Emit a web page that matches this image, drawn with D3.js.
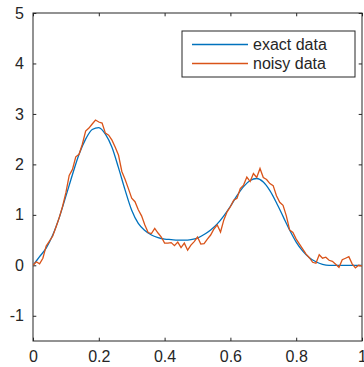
<!DOCTYPE html>
<html>
<head>
<meta charset="utf-8">
<script src="https://cdn.jsdelivr.net/npm/d3@7"></script>
<style>
  body { margin: 0; background: #fff; }
  svg text { font-family: "Liberation Sans", Arial, sans-serif; fill: #262626; }
</style>
</head>
<body>
<svg id="chart" width="364" height="367"></svg>
<script>
// exact curve, sampled every 0.02
var exactX = d3.range(0, 51).map(function (i) { return i / 50; });
var exactY = [0.00, 0.17, 0.34, 0.60, 0.95, 1.37, 1.80, 2.20, 2.50, 2.69,
              2.73, 2.60, 2.34, 1.93, 1.49, 1.09, 0.83, 0.69, 0.60, 0.55,
              0.52, 0.51, 0.50, 0.50, 0.51, 0.54, 0.61, 0.70, 0.82, 0.98,
              1.17, 1.38, 1.56, 1.68, 1.72, 1.65, 1.48, 1.24, 0.97, 0.70,
              0.46, 0.28, 0.15, 0.07, 0.02, 0.00, 0.00, 0.00, 0.00, 0.00,
              0.00];

// noisy data, sampled every 0.01
var noisyX = d3.range(0, 101).map(function (i) { return i / 100; });
var noisyY = [0.00, 0.07, 0.03, 0.14, 0.38, 0.48, 0.58, 0.76, 0.95, 1.17,
              1.44, 1.78, 1.90, 2.15, 2.20, 2.40, 2.66, 2.72, 2.80, 2.88,
              2.84, 2.82, 2.62, 2.58, 2.48, 2.34, 2.18, 1.86, 1.70, 1.52,
              1.33, 1.26, 1.10, 0.98, 0.80, 0.65, 0.63, 0.73, 0.64, 0.56,
              0.44, 0.44, 0.45, 0.39, 0.46, 0.35, 0.44, 0.30, 0.40, 0.47,
              0.56, 0.42, 0.43, 0.52, 0.60, 0.72, 0.80, 0.66, 0.90, 1.06,
              1.16, 1.29, 1.33, 1.52, 1.59, 1.75, 1.66, 1.82, 1.74, 1.92,
              1.74, 1.70, 1.62, 1.58, 1.38, 1.25, 1.19, 0.98, 0.70, 0.65,
              0.52, 0.42, 0.32, 0.22, 0.15, 0.06, 0.04, 0.21, 0.14, 0.16,
              0.10, 0.08, 0.02, -0.04, 0.11, 0.14, 0.17, 0.03, -0.05, 0.00,
              -0.01];

var xTicks = [0, 0.2, 0.4, 0.6, 0.8, 1];
var yTicks = [-1, 0, 1, 2, 3, 4, 5];
var seriesNames = ['exact data', 'noisy data'];
var seriesColors = ['#0072BD', '#D95319'];

var margin = {left: 33, right: 2, top: 13, bottom: 26};
var width = 364 - margin.left - margin.right;
var height = 367 - margin.top - margin.bottom;

var svg = d3.select('#chart');
var g = svg.append('g').attr('transform', 'translate(' + margin.left + ',' + margin.top + ')');

var x = d3.scaleLinear().domain([0, 1]).range([0, width]);
var y = d3.scaleLinear().domain([-1.5, 5]).range([height, 0]);

var tickLen = 3.3;
// plain hyphen for negatives, like the original
var fmt = function (d) { return String(d); };

var styleAxis = function (sel) {
    sel.select('.domain').remove();
    sel.selectAll('line').attr('stroke', '#262626');
    sel.selectAll('text').attr('font-size', 16).attr('fill', '#262626')
        .style('font-family', '"Liberation Sans", Arial, sans-serif');
};

g.append('g').attr('transform', 'translate(0,' + height + ')')
    .call(d3.axisBottom(x).tickValues(xTicks).tickFormat(fmt).tickSizeInner(-tickLen).tickSizeOuter(0).tickPadding(10))
    .call(styleAxis);
g.append('g')
    .call(d3.axisTop(x).tickValues(xTicks).tickFormat('').tickSizeInner(-tickLen).tickSizeOuter(0))
    .call(styleAxis);
g.append('g')
    .call(d3.axisLeft(y).tickValues(yTicks).tickFormat(fmt).tickSizeInner(-tickLen).tickSizeOuter(0).tickPadding(9))
    .call(styleAxis);
g.append('g').attr('transform', 'translate(' + width + ',0)')
    .call(d3.axisRight(y).tickValues(yTicks).tickFormat('').tickSizeInner(-tickLen).tickSizeOuter(0))
    .call(styleAxis);

// box
g.append('rect')
    .attr('x', 0).attr('y', 0).attr('width', width).attr('height', height)
    .attr('fill', 'none').attr('stroke', '#262626').attr('stroke-width', 1);

var clip = g.append('clipPath').attr('id', 'clip');
clip.append('rect').attr('width', width).attr('height', height);

var line = d3.line()
    .x(function (d) { return x(d[0]); })
    .y(function (d) { return y(d[1]); });

var exactData = exactX.map(function (v, i) { return [v, exactY[i]]; });
var noisyData = noisyX.map(function (v, i) { return [v, noisyY[i]]; });

g.append('path').datum(exactData)
    .attr('clip-path', 'url(#clip)')
    .attr('fill', 'none').attr('stroke', seriesColors[0]).attr('stroke-width', 1.3)
    .attr('d', line.curve(d3.curveMonotoneX));
g.append('path').datum(noisyData)
    .attr('clip-path', 'url(#clip)')
    .attr('fill', 'none').attr('stroke', seriesColors[1]).attr('stroke-width', 1.3)
    .attr('d', line.curve(d3.curveLinear));

// legend
var legend = g.append('g').attr('transform', 'translate(' + (182 - margin.left) + ',' + (31 - margin.top) + ')');
legend.append('rect')
    .attr('width', 173).attr('height', 46)
    .attr('fill', '#fff').attr('stroke', '#262626').attr('stroke-width', 1);
seriesNames.forEach(function (name, i) {
    var ly = 13.5 + i * 19;
    legend.append('line')
        .attr('x1', 10).attr('x2', 66).attr('y1', ly).attr('y2', ly)
        .attr('stroke', seriesColors[i]).attr('stroke-width', 1.3);
    legend.append('text')
        .attr('x', 71).attr('y', ly).attr('dy', '0.35em')
        .attr('font-size', 16).text(name);
});
</script>
</body>
</html>
